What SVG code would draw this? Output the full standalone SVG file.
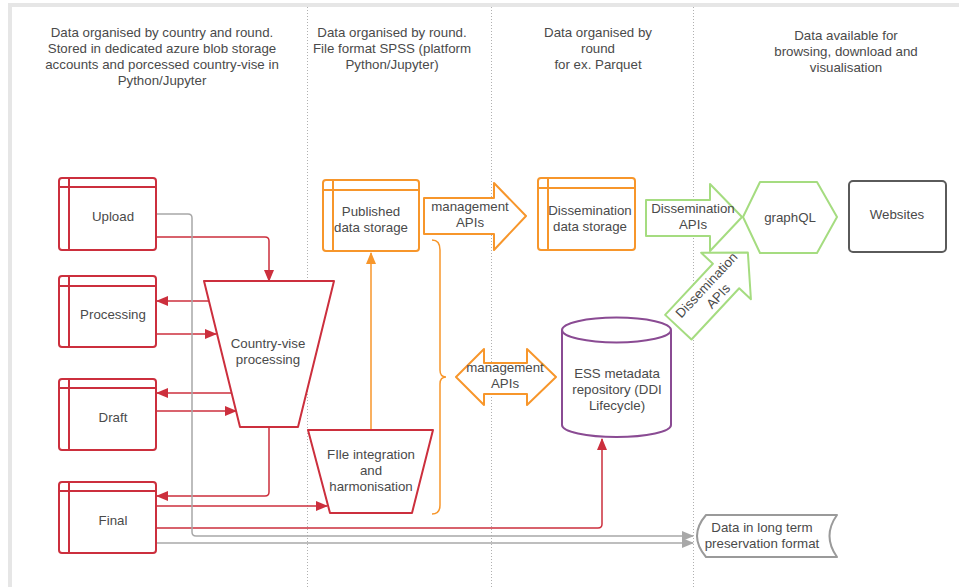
<svg xmlns="http://www.w3.org/2000/svg" width="959" height="587" viewBox="0 0 959 587">
<style>
text{font-family:"Liberation Sans",Arial,sans-serif;font-size:13.3px;fill:#4a4a4a;text-anchor:middle}
.red{fill:#fff;stroke:#cc2f3d;stroke-width:2;stroke-linejoin:round}
.redl{fill:none;stroke:#cc2f3d;stroke-width:1.5}
.org{fill:#fff;stroke:#f7962b;stroke-width:2;stroke-linejoin:round}
.orgl{fill:none;stroke:#f7962b;stroke-width:1.5}
.grn{fill:#fff;stroke:#a5dc80;stroke-width:2;stroke-linejoin:round}
.pur{fill:#fff;stroke:#8a4b93;stroke-width:2}
.gry{fill:#fff;stroke:#9a9a9a;stroke-width:2;stroke-linejoin:round}
.dk{fill:#fff;stroke:#5a5a5a;stroke-width:2}
.gryl{fill:none;stroke:#a8a8a8;stroke-width:1.5}
.div{stroke:#b0b0b0;stroke-width:1;stroke-dasharray:1,2}
</style>
<defs>
<marker id="ar" markerUnits="userSpaceOnUse" markerWidth="12" markerHeight="10" refX="11" refY="5" orient="auto"><path d="M0,0 L12,5 L0,10 Z" fill="#cc2f3d"/></marker>
<marker id="ao" markerUnits="userSpaceOnUse" markerWidth="12" markerHeight="10" refX="11" refY="5" orient="auto"><path d="M0,0 L12,5 L0,10 Z" fill="#f7962b"/></marker>
<marker id="ag" markerUnits="userSpaceOnUse" markerWidth="12" markerHeight="10" refX="11" refY="5" orient="auto"><path d="M0,0 L12,5 L0,10 Z" fill="#a8a8a8"/></marker>
</defs>
<rect width="959" height="587" fill="#fff"/>
<rect x="8" y="3" width="951" height="4" fill="#e6e6e6"/>
<rect x="8" y="3" width="4" height="584" fill="#e6e6e6"/>
<g id="dividers">
<line class="div" x1="307.5" y1="7" x2="307.5" y2="587"/>
<line class="div" x1="491.5" y1="7" x2="491.5" y2="587"/>
<line class="div" x1="693.5" y1="7" x2="693.5" y2="587"/>
</g>
<g id="headers">
<text x="162" y="37">Data organised by country and round.</text>
<text x="162" y="53">Stored in dedicated azure blob storage</text>
<text x="162" y="69">accounts and porcessed country-vise in</text>
<text x="162" y="85">Python/Jupyter</text>
<text x="392" y="37">Data organised by round.</text>
<text x="392" y="53">File format SPSS (platform</text>
<text x="392" y="69">Python/Jupyter)</text>
<text x="598" y="37">Data organised by</text>
<text x="598" y="53">round</text>
<text x="598" y="69">for ex. Parquet</text>
<text x="846" y="40">Data available for</text>
<text x="846" y="56">browsing, download and</text>
<text x="846" y="72">visualisation</text>
</g>
<g id="connectors">
<path class="redl" d="M156,237 H265 Q269,237 269,241 V281" marker-end="url(#ar)"/>
<path class="redl" d="M209,301 H157" marker-end="url(#ar)"/>
<path class="redl" d="M156,334 H216" marker-end="url(#ar)"/>
<path class="redl" d="M232,393 H157" marker-end="url(#ar)"/>
<path class="redl" d="M156,411 H236" marker-end="url(#ar)"/>
<path class="redl" d="M269,427 V492 Q269,496 265,496 H157" marker-end="url(#ar)"/>
<path class="redl" d="M156,506 H327" marker-end="url(#ar)"/>
<path class="redl" d="M156,528 H598 Q602,528 602,524 V439" marker-end="url(#ar)"/>
<path class="gryl" d="M156,214 H188 Q192,214 192,218 V532 Q192,536 196,536 H693" marker-end="url(#ag)"/>
<path class="gryl" d="M156,543 H693" marker-end="url(#ag)"/>
<path class="orgl" d="M371,430 V253" marker-end="url(#ao)"/>
<path class="orgl" d="M432,240 Q440,240 440,250 V370 Q440,377 446,377 Q440,377 440,384 V505 Q440,514 432,514"/>
</g>
<g id="upload">
<rect class="red" x="59" y="178" width="97" height="72" rx="3"/>
<path class="redl" style="stroke-width:2" d="M59,187 H156 M69,178 V250"/>
<text x="113" y="220.5">Upload</text>
</g>
<g id="processing">
<rect class="red" x="59" y="276" width="97" height="71" rx="3"/>
<path class="redl" style="stroke-width:2" d="M59,286 H156 M69,276 V347"/>
<text x="113" y="318.5">Processing</text>
</g>
<g id="draft">
<rect class="red" x="59" y="379" width="97" height="71" rx="3"/>
<path class="redl" style="stroke-width:2" d="M59,388 H156 M69,379 V450"/>
<text x="113" y="421.5">Draft</text>
</g>
<g id="final">
<rect class="red" x="59" y="482" width="97" height="71" rx="3"/>
<path class="redl" style="stroke-width:2" d="M59,491 H156 M69,482 V553"/>
<text x="113" y="524.5">Final</text>
</g>
<g id="country-vise">
<polygon class="red" points="204,281 334,281 298,427 240,427"/>
<text x="268" y="347.5">Country-vise</text>
<text x="268" y="363.5">processing</text>
</g>
<g id="file-integration">
<polygon class="red" points="308,430 433,430 412,513 330,513"/>
<text x="371" y="458.5">FIle integration</text>
<text x="371" y="474.5">and</text>
<text x="371" y="490.5">harmonisation</text>
</g>
<g id="published">
<rect class="org" x="323" y="180" width="96" height="71" rx="3"/>
<path class="orgl" style="stroke-width:2" d="M323,190 H419 M333,180 V251"/>
<text x="371" y="216">Published</text>
<text x="371" y="232">data storage</text>
</g>
<g id="mgmt-api-1">
<polygon class="org" points="424,198 494,198 494,183 526,216 494,250 494,234 424,234"/>
<text x="470" y="211">management</text>
<text x="470" y="227">APIs</text>
</g>
<g id="mgmt-api-2">
<polygon class="org" points="456,377 484,349 484,363 527,363 527,349 556,377 527,405 527,394 484,394 484,405"/>
<text x="505" y="372">management</text>
<text x="505" y="388">APIs</text>
</g>
<g id="dissemination-storage">
<rect class="org" x="538" y="178" width="97" height="72" rx="3"/>
<path class="orgl" style="stroke-width:2" d="M538,188 H635 M548,178 V250"/>
<text x="590" y="214.5">Dissemination</text>
<text x="590" y="230.5">data storage</text>
</g>
<g id="ess-metadata">
<path class="pur" d="M562,330 V425 A54.5,12 0 0 0 671,425 V330"/>
<ellipse class="pur" cx="616.5" cy="330" rx="54.5" ry="12.5"/>
<text x="617" y="377.5">ESS metadata</text>
<text x="617" y="393.5">repository (DDI</text>
<text x="617" y="409.5">Lifecycle)</text>
</g>
<g id="dissemination-api-1">
<polygon class="grn" points="646,200 710,200 710,184 742,217 710,251 710,236 646,236"/>
<text x="693" y="212.5">Dissemination</text>
<text x="693" y="228.5">APIs</text>
</g>
<g id="dissemination-api-2" transform="translate(712.4,290.6) rotate(-47)">
<polygon class="grn" points="-50,-18 20,-18 20,-34 52,0 20,34 20,18 -50,18"/>
<text x="0" y="-3.5">Dissemination</text>
<text x="0" y="12.5">APIs</text>
</g>
<g id="graphql">
<polygon class="grn" points="743,217 760,182 817,182 837,217 817,253 760,253"/>
<text x="790" y="221.5">graphQL</text>
</g>
<g id="websites">
<rect class="dk" x="849" y="181" width="97" height="71" rx="4"/>
<text x="897" y="218.5">Websites</text>
</g>
<g id="long-term">
<path class="gry" d="M706,515 H837 Q822,536 837,557 H706 Q688,536 706,515 Z"/>
<text x="762" y="531.5">Data in long term</text>
<text x="762" y="547.5">preservation format</text>
</g>
</svg>
